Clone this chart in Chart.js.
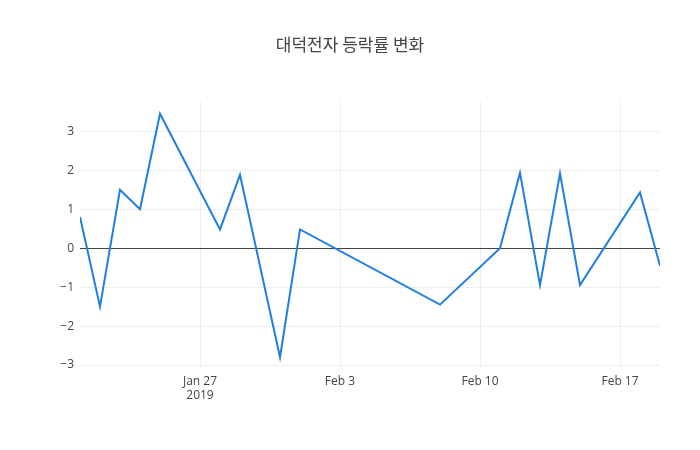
<!DOCTYPE html>
<html>
<head>
<meta charset="utf-8">
<script src="https://cdn.jsdelivr.net/npm/chart.js@4"></script>
<style>
  body { margin: 0; background: #fff; }
  #wrap { width: 700px; height: 450px; }
</style>
</head>
<body>
<div id="wrap"><canvas id="c" width="700" height="450"></canvas></div>
<script>
// days counted from Jan 21, 2019
const days = [0, 1, 2, 3, 4, 7, 8, 10, 11, 18, 21, 22, 23, 24, 25, 28, 29];
const changes = [0.8, -1.5, 1.5, 1.0, 3.45, 0.48, 1.88, -2.8, 0.48, -1.45, 0.0, 1.93, -0.95, 1.92, -0.95, 1.43, -0.45];
const tickDays = [6, 13, 20, 27];
const tickLabels = [['Jan 27', '2019'], 'Feb 3', 'Feb 10', 'Feb 17'];

const tickFont = { family: 'Open Sans', size: 12 };

new Chart(document.getElementById('c'), {
    type: 'line',
    data: {
        datasets: [{
            data: days.map((d, i) => ({ x: d, y: changes[i] })),
            borderColor: '#1f7fe0',
            borderWidth: 2,
            pointRadius: 0,
            tension: 0,
            fill: false,
        }],
    },
    options: {
        responsive: false,
        animation: false,
        layout: { padding: { left: 40, right: 40, top: 0, bottom: 0 } },
        plugins: {
            legend: { display: false },
            tooltip: { enabled: false },
            title: {
                display: true,
                text: '대덕전자 등락률 변화',
                color: '#444',
                font: { family: 'Noto Sans CJK KR', size: 17, weight: 'normal' },
                padding: { top: 34, bottom: 47.6 },
            },
        },
        scales: {
            x: {
                type: 'linear',
                min: 0,
                max: 29,
                afterBuildTicks: s => { s.ticks = tickDays.map(v => ({ value: v })); },
                afterFit: s => { s.height = 83; },
                ticks: {
                    color: '#444',
                    font: tickFont,
                    maxRotation: 0,
                    padding: 7,
                    callback: (v) => tickLabels[tickDays.indexOf(v)],
                },
                grid: { color: '#eee', drawTicks: false },
                border: { display: false },
            },
            y: {
                min: -3.05,
                max: 3.75,
                afterBuildTicks: s => { s.ticks = [-3, -2, -1, 0, 1, 2, 3].map(v => ({ value: v })); },
                afterFit: s => { s.width = 40; },
                ticks: {
                    color: '#444',
                    font: tickFont,
                    padding: 6,
                    callback: v => (v < 0 ? '−' + Math.abs(v) : String(v)),
                },
                grid: {
                    color: ctx => (ctx.tick && ctx.tick.value === 0 ? '#444' : '#eee'),
                    drawTicks: false,
                },
                border: { display: false },
            },
        },
    },
});
</script>
</body>
</html>
